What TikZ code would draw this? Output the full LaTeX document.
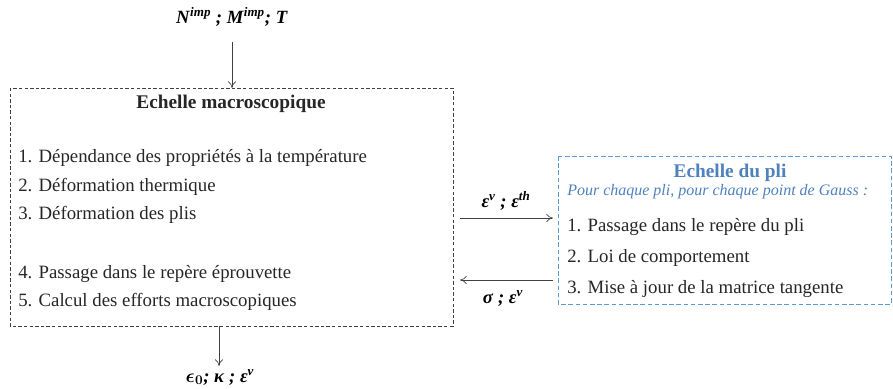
\documentclass[tikz,border=0pt]{standalone}
\usepackage{fontspec}
\setmainfont{Liberation Serif}
\usepackage{amsmath,bm}
\usetikzlibrary{arrows.meta}
\definecolor{boxgray}{HTML}{404040}
\definecolor{pliblue}{HTML}{4F81BD}
\definecolor{pliline}{HTML}{5B9BD5}
\newcommand{\bix}[1]{\textbf{\textit{#1}}}
\newcommand{\supx}[1]{\textsuperscript{\bix{#1}}}
\tikzset{
  macrobox/.style={draw=boxgray, dash pattern=on 2.6pt off 1.6pt, line width=0.6pt},
  plibox/.style={draw=pliline, dash pattern=on 3.4pt off 2pt, line width=0.6pt},
  txt/.style={anchor=west, inner sep=0pt, font=\fontsize{14.1}{15}\selectfont, text=black!85},
  lbl/.style={inner sep=0pt, font=\fontsize{14}{16}\selectfont},
  ttl/.style={inner sep=0pt, font=\fontsize{14.5}{16}\selectfont\bfseries, text=black!85},
  conn/.style={-{To[length=5pt,width=6pt]}, line width=0.5pt, draw=black!75},
}
\begin{document}
\begin{tikzpicture}[x=0.75pt,y=-0.75pt]
\useasboundingbox (0,0) rectangle (893,389);
% macro box
\draw[macrobox] (10,88) rectangle (453,326);
\coordinate (mtop) at (232,88);
\coordinate (mbot) at (219,326);
\node[ttl] (mtitle) at (231,104) {Echelle macroscopique};
\node[txt] (m1) at (18,158) {1. Dépendance des propriétés à la température};
\node[txt] (m2) at (18,187) {2. Déformation thermique};
\node[txt] (m3) at (18,215) {3. Déformation des plis};
\node[txt] (m4) at (18,274) {4. Passage dans le repère éprouvette};
\node[txt] (m5) at (18,302) {5. Calcul des efforts macroscopiques};
% inputs/outputs
\node[lbl] (in) at (232,17) {\bix{N}\supx{imp} \bix{;} \bix{M}\supx{imp}\bix{;} \bix{T}};
\node[lbl] (out) at (220,377) {{\boldmath$\epsilon_0$}\bix{;} \bix{κ} \bix{;} \bix{ε}\supx{v}};
\coordinate (intail) at (232,42);
\coordinate (outhead) at (219,366);
\draw[conn] (intail) -- (mtop);
\draw[conn] (mbot) -- (outhead);
% ply box
\draw[plibox] (558,156) rectangle (891,304);
\node[ttl, text=pliblue] (ptitle) at (730,173) {Echelle du pli};
\node[txt, text=pliblue, font=\fontsize{12}{13}\selectfont\itshape] (psub) at (567,192) {Pour chaque pli, pour chaque point de Gauss :};
\node[txt] (p1) at (567,227) {1. Passage dans le repère du pli};
\node[txt] (p2) at (567,258) {2. Loi de comportement};
\node[txt] (p3) at (567,289) {3. Mise à jour de la matrice tangente};
% exchange arrows
\coordinate (a1s) at (460,218);
\coordinate (a1e) at (553,218);
\coordinate (a2s) at (553,280);
\coordinate (a2e) at (460,280);
\draw[conn] (a1s) -- (a1e);
\draw[conn] (a2s) -- (a2e);
\node[lbl] (l1) at (506,201) {\bix{ε}\supx{v} \bix{;} \bix{ε}\supx{th}};
\node[lbl] (l2) at (503,298) {\bix{σ} \bix{;} \bix{ε}\supx{v}};
\end{tikzpicture}
\end{document}
